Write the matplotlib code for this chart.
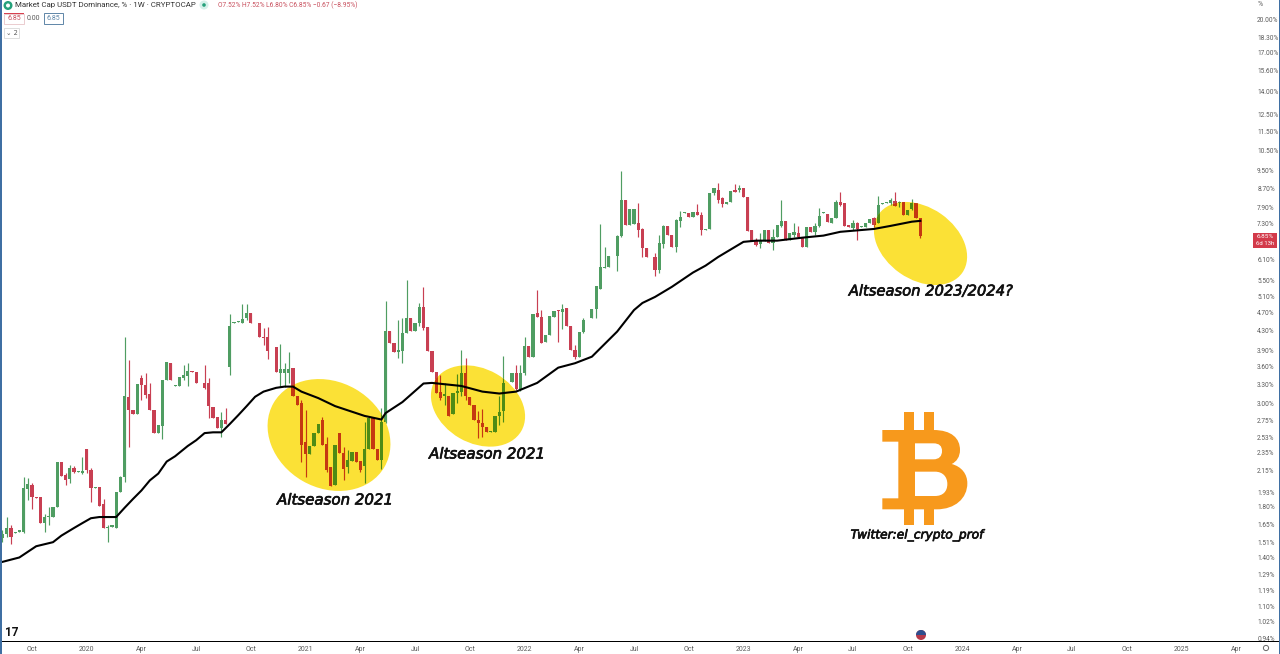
import matplotlib
matplotlib.use("Agg")
import matplotlib.pyplot as plt
import matplotlib.dates as mdates
import matplotlib.patheffects as pe
import numpy as np
import pandas as pd
from matplotlib.patches import Circle, Ellipse, PathPatch, Rectangle, Wedge
from matplotlib.path import Path
from matplotlib.transforms import Affine2D

# weekly candles, USDT dominance in %
first_week = "2019-08-12"
opens = [
    1.54, 1.57, 1.62, 1.58, 1.59, 1.59, 1.96, 2.00, 1.89, 1.89,
    1.66, 1.71, 1.71, 1.80, 2.25, 2.11, 2.06, 2.18, 2.14, 2.13,
    2.40, 2.16, 1.97, 1.98, 1.82, 1.62, 1.63, 1.62, 1.94, 2.08,
    3.10, 2.91, 2.85, 3.40, 3.29, 3.15, 2.90, 2.59, 2.68, 3.37,
    3.67, 3.27, 3.27, 3.40, 3.44, 3.52, 3.50, 3.33, 3.32, 3.32,
    2.94, 2.80, 2.66, 2.77, 3.59, 4.46, 4.48, 4.47, 4.57, 4.69,
    4.47, 4.47, 4.17, 4.17, 3.92, 3.97, 3.49, 3.49, 3.49, 3.58,
    3.11, 3.01, 2.48, 2.34, 2.43, 2.59, 2.76, 2.46, 2.19, 2.00,
    2.59, 2.35, 2.19, 2.26, 2.36, 2.26, 2.20, 2.40, 2.79, 2.40,
    2.27, 2.73, 4.30, 4.05, 3.87, 3.89, 4.26, 4.58, 4.30, 4.47,
    4.83, 4.38, 3.89, 3.51, 3.18, 3.11, 3.11, 2.84, 3.16, 3.18,
    3.49, 3.10, 2.97, 2.76, 2.72, 2.67, 2.61, 2.60, 2.82, 2.89,
    3.33, 3.34, 3.49, 3.22, 3.49, 3.99, 3.78, 4.69, 4.60, 4.07,
    4.21, 4.60, 4.76, 4.71, 4.81, 4.40, 3.91, 3.78, 4.28, 4.55,
    4.58, 4.79, 5.29, 5.87, 5.90, 6.22, 6.22, 6.88, 8.21, 7.26,
    7.29, 7.33, 7.11, 6.47, 6.22, 6.19, 5.81, 6.61, 7.22, 6.91,
    6.51, 7.40, 7.70, 7.70, 7.55, 7.74, 7.62, 7.08, 7.11, 8.50,
    8.62, 8.29, 8.05, 8.13, 8.62, 8.62, 8.70, 8.33, 7.08, 6.71,
    6.61, 6.71, 7.08, 6.64, 6.84, 7.22, 7.40, 6.74, 6.91, 6.98,
    6.84, 6.51, 7.19, 7.01, 7.22, 7.70, 7.66, 7.33, 7.51, 8.13,
    8.09, 7.26, 7.15, 7.33, 7.19, 7.19, 7.33, 7.51, 7.33, 8.05,
    8.09, 8.09, 8.17, 8.09, 8.13, 7.62, 7.85, 8.09, 7.52,
]
highs = [
    1.60, 1.71, 1.64, 1.59, 1.60, 2.08, 2.07, 2.02, 1.89, 1.89,
    1.74, 1.80, 1.80, 2.25, 2.25, 2.13, 2.21, 2.20, 2.15, 2.30,
    2.40, 2.18, 1.98, 1.98, 1.87, 1.64, 1.64, 1.94, 2.10, 4.17,
    3.72, 2.91, 3.31, 3.45, 3.49, 3.32, 2.90, 2.69, 3.37, 3.68,
    3.67, 3.28, 3.42, 3.63, 3.67, 3.52, 3.50, 3.34, 3.63, 3.40,
    2.94, 2.80, 2.87, 2.93, 4.67, 4.48, 4.50, 4.91, 4.91, 4.69,
    4.47, 4.47, 4.36, 4.38, 3.93, 3.97, 4.03, 3.66, 3.87, 3.58,
    3.11, 3.05, 2.90, 2.43, 2.59, 2.71, 2.80, 2.54, 2.19, 2.44,
    2.59, 2.42, 2.38, 2.36, 2.36, 2.26, 2.73, 2.79, 2.79, 2.40,
    2.93, 4.99, 4.30, 4.05, 4.53, 4.58, 5.53, 4.58, 4.47, 4.93,
    5.34, 4.38, 3.89, 3.51, 3.45, 3.32, 3.11, 3.16, 3.47, 3.91,
    3.76, 3.10, 2.97, 2.89, 2.92, 2.67, 2.62, 2.82, 3.11, 3.79,
    3.34, 3.49, 3.63, 3.63, 4.17, 3.99, 4.67, 5.26, 4.76, 4.21,
    4.62, 4.74, 4.76, 4.91, 4.81, 4.40, 4.01, 4.28, 4.58, 4.56,
    4.79, 5.37, 7.30, 6.51, 6.22, 6.23, 6.91, 9.47, 8.21, 7.85,
    7.85, 8.09, 7.15, 6.47, 6.22, 6.31, 6.91, 7.26, 7.22, 6.91,
    7.48, 7.77, 7.72, 7.70, 7.74, 8.05, 7.74, 7.11, 8.50, 8.70,
    8.92, 8.33, 8.13, 8.58, 8.88, 8.84, 8.70, 8.33, 7.08, 6.81,
    6.98, 7.08, 7.08, 7.11, 7.26, 8.21, 7.40, 6.98, 7.33, 7.22,
    6.84, 7.19, 7.19, 7.33, 7.89, 7.72, 7.66, 7.51, 8.21, 8.54,
    8.09, 7.26, 7.44, 7.37, 7.20, 7.33, 7.48, 7.55, 8.37, 8.07,
    8.11, 8.29, 8.54, 8.17, 8.13, 7.81, 8.25, 8.09, 7.52,
]
lows = [
    1.51, 1.55, 1.50, 1.58, 1.59, 1.58, 1.86, 1.78, 1.88, 1.66,
    1.59, 1.64, 1.71, 1.80, 2.09, 2.00, 2.02, 2.13, 2.14, 2.12,
    2.13, 1.84, 1.97, 1.81, 1.62, 1.51, 1.63, 1.62, 1.94, 2.03,
    2.42, 2.84, 2.85, 3.05, 3.08, 2.90, 2.59, 2.59, 2.51, 3.37,
    3.37, 3.27, 3.27, 3.37, 3.27, 3.50, 3.32, 3.33, 3.22, 2.79,
    2.79, 2.66, 2.54, 2.71, 3.45, 4.46, 4.48, 4.47, 4.53, 4.47,
    4.46, 4.17, 4.01, 3.74, 3.92, 3.51, 3.26, 3.26, 3.32, 3.11,
    2.97, 2.25, 2.08, 2.34, 2.43, 2.59, 2.44, 2.14, 1.99, 2.00,
    2.35, 2.05, 2.13, 2.26, 2.25, 2.14, 2.02, 2.40, 2.39, 2.27,
    2.17, 2.72, 4.05, 3.87, 3.76, 3.67, 4.26, 4.30, 4.30, 4.40,
    4.32, 3.89, 3.51, 3.16, 3.05, 2.97, 2.82, 2.84, 3.01, 3.11,
    3.05, 2.97, 2.77, 2.53, 2.54, 2.60, 2.61, 2.60, 2.69, 2.73,
    3.33, 3.34, 3.21, 3.19, 3.45, 3.78, 3.78, 4.60, 4.05, 4.07,
    4.21, 4.60, 4.07, 4.34, 4.40, 3.91, 3.74, 3.78, 4.26, 4.55,
    4.58, 4.58, 5.29, 5.86, 5.90, 6.22, 5.78, 6.84, 7.26, 7.26,
    7.29, 6.84, 6.19, 6.19, 6.21, 5.64, 5.72, 6.47, 6.91, 6.51,
    6.35, 7.19, 7.70, 7.55, 7.55, 7.62, 6.91, 7.08, 7.11, 8.42,
    8.09, 7.93, 8.05, 8.13, 8.54, 8.54, 8.33, 7.04, 6.71, 6.54,
    6.47, 6.71, 6.64, 6.41, 6.84, 7.19, 6.74, 6.74, 6.84, 6.81,
    6.51, 6.51, 7.01, 6.91, 7.19, 7.70, 7.37, 7.33, 7.51, 7.97,
    7.22, 7.19, 7.08, 6.74, 7.19, 7.19, 7.33, 7.19, 7.33, 8.05,
    8.09, 8.01, 7.97, 7.93, 7.62, 7.62, 7.81, 7.52, 6.80,
]
closes = [
    1.57, 1.62, 1.55, 1.59, 1.60, 1.97, 2.01, 1.89, 1.88, 1.66,
    1.71, 1.72, 1.80, 2.25, 2.09, 2.05, 2.18, 2.14, 2.15, 2.15,
    2.16, 1.97, 1.98, 1.81, 1.62, 1.63, 1.64, 1.94, 2.08, 3.11,
    2.90, 2.84, 3.31, 3.29, 3.13, 2.90, 2.59, 2.69, 3.37, 3.68,
    3.37, 3.28, 3.42, 3.45, 3.52, 3.50, 3.32, 3.34, 3.24, 2.96,
    2.79, 2.66, 2.77, 2.71, 4.40, 4.48, 4.50, 4.55, 4.69, 4.47,
    4.46, 4.17, 4.15, 3.89, 3.93, 3.51, 3.56, 3.56, 3.56, 3.11,
    2.97, 2.44, 2.34, 2.43, 2.59, 2.71, 2.44, 2.16, 1.99, 2.44,
    2.35, 2.17, 2.27, 2.36, 2.25, 2.16, 2.40, 2.79, 2.39, 2.27,
    2.73, 4.30, 4.05, 3.87, 3.91, 4.26, 4.58, 4.30, 4.47, 4.83,
    4.36, 3.89, 3.51, 3.16, 3.08, 3.15, 2.82, 3.16, 3.19, 3.49,
    3.11, 2.97, 2.77, 2.72, 2.67, 2.60, 2.62, 2.82, 2.87, 3.32,
    3.34, 3.49, 3.22, 3.49, 3.99, 3.78, 4.67, 4.60, 4.05, 4.21,
    4.62, 4.74, 4.74, 4.78, 4.40, 3.91, 3.78, 4.28, 4.53, 4.56,
    4.79, 5.37, 5.90, 5.90, 6.22, 6.23, 6.88, 8.21, 7.26, 7.85,
    7.85, 7.08, 6.47, 6.19, 6.21, 5.81, 6.64, 7.22, 6.91, 6.51,
    7.44, 7.55, 7.72, 7.55, 7.74, 7.62, 7.08, 7.11, 8.50, 8.70,
    8.21, 8.05, 8.13, 8.58, 8.54, 8.70, 8.33, 7.04, 6.71, 6.58,
    6.71, 7.08, 6.64, 6.84, 7.26, 7.40, 6.74, 6.98, 7.01, 6.84,
    6.51, 7.19, 7.01, 7.22, 7.59, 7.72, 7.37, 7.51, 8.13, 8.01,
    7.22, 7.19, 7.33, 7.11, 7.20, 7.33, 7.48, 7.26, 8.01, 8.07,
    8.11, 8.21, 7.97, 8.13, 7.62, 7.81, 8.09, 7.52, 6.85,
]

# black moving average, read every few weeks
ma_weeks = [0, 4, 8, 12, 14, 17, 19, 21, 23, 25, 27, 29, 31, 33, 35, 37, 39, 41,
            44, 46, 48, 50, 52, 54, 56, 58, 60, 62, 65, 67, 69, 71, 75, 79, 86,
            90, 91, 95, 100, 102, 109, 114, 118, 122, 127, 132, 136, 140, 146,
            150, 152, 155, 159, 164, 167, 170, 176, 179, 184, 190, 195, 199,
            207, 211, 216, 218]
ma_values = [1.37, 1.40, 1.48, 1.51, 1.56, 1.62, 1.66, 1.70, 1.71, 1.71, 1.71,
             1.79, 1.87, 1.95, 2.05, 2.12, 2.25, 2.31, 2.43, 2.50, 2.59, 2.60,
             2.60, 2.71, 2.83, 2.96, 3.10, 3.18, 3.24, 3.26, 3.26, 3.18, 3.08,
             2.96, 2.82, 2.77, 2.86, 3.02, 3.31, 3.32, 3.27, 3.18, 3.15, 3.18,
             3.32, 3.58, 3.66, 3.78, 4.28, 4.76, 4.93, 5.08, 5.34, 5.73, 5.93,
             6.19, 6.67, 6.71, 6.71, 6.81, 6.88, 7.01, 7.11, 7.22, 7.37, 7.40]

price_ticks = [20.00, 18.30, 17.00, 15.60, 14.00, 12.50, 11.50, 10.50, 9.50,
               8.70, 7.90, 7.30, 6.10, 5.50, 5.10, 4.70, 4.30, 3.90, 3.60,
               3.30, 3.00, 2.75, 2.53, 2.35, 2.15, 1.93, 1.80, 1.65, 1.51,
               1.40, 1.29, 1.19, 1.10, 1.02, 0.94]
first_tick_week = "2019-09-30"
month_labels = ["Oct", "2020", "Apr", "Jul", "Oct", "2021", "Apr", "Jul", "Oct",
                "2022", "Apr", "Jul", "Oct", "2023", "Apr", "Jul", "Oct",
                "2024", "Apr", "Jul", "Oct", "2025", "Apr"]

W, H = 1280, 654
GREEN = "#4f9d62"
RED = "#c83f52"
YELLOW = "#fbe136"
GRAY = "#5a5a5a"
SANS = "Roboto"

fig = plt.figure(figsize=(W / 100, H / 100), dpi=100, facecolor="white")
# pixel coordinates of the picture, y going down, for the drawn-on notes
px = Affine2D().scale(1, -1).translate(0, H)

ax = fig.add_axes([2 / W, 1 - 642 / H, 1251 / W, 632 / H])
ax.set_yscale("log")

dates = mdates.date2num(pd.date_range(first_week, periods=len(opens), freq="7D"))
opens, highs, lows, closes = map(np.array, (opens, highs, lows, closes))
up = closes >= opens


def multiply(color):
    return np.array(matplotlib.colors.to_rgb(color)) * matplotlib.colors.to_rgb(YELLOW)


def draw_candles(up_color, down_color, zorder, clip=None):
    colors = [up_color if u else down_color for u in up]
    wicks = ax.vlines(dates, lows, highs, colors=colors, linewidth=0.85, zorder=zorder)
    bodies = ax.bar(dates, np.abs(closes - opens), bottom=np.minimum(opens, closes),
                    width=5.3, color=colors, linewidth=0, zorder=zorder + 0.1)
    if clip is not None:
        wicks.set_clip_path(clip)
        for bar in bodies:
            bar.set_clip_path(clip)


draw_candles(GREEN, RED, 2)

# yellow marker blots, candles seen through them get multiplied by the yellow
spots = [((329, 435), 128, 106, 30), ((478, 406), 100, 74, 30), ((920.5, 243.5), 102, 72, 35)]
for center, width, height, angle in spots:
    spot = Ellipse(center, width, height, angle=angle, facecolor=YELLOW,
                   edgecolor="none", transform=px, zorder=3)
    ax.add_patch(spot)
    draw_candles(multiply(GREEN), multiply(RED), 4, clip=spot)

ax.plot(dates[ma_weeks], ma_values, color="black", linewidth=1.5, zorder=5,
        solid_joinstyle="round")

x0 = mdates.date2num(pd.Timestamp(first_week))
ax.set_xlim(x0 + 7 * (2 - 2.5) / 4.21, x0 + 7 * (1253 - 2.5) / 4.21)
ax.set_ylim(0.9216, 21.0)

tick_dates = mdates.date2num(pd.date_range(first_tick_week, periods=len(month_labels), freq="91D"))
ax.set_xticks(tick_dates, month_labels)
ax.yaxis.tick_right()
ax.set_yticks(price_ticks, [f"{p:.2f}%" for p in price_ticks])
ax.minorticks_off()
ax.tick_params(axis="x", length=0, pad=3, labelsize=5, labelcolor=GRAY)
ax.tick_params(axis="y", length=0, pad=3, labelsize=4.7, labelcolor=GRAY)
for label in ax.get_xticklabels() + ax.get_yticklabels():
    label.set_fontfamily(SANS)
for side in ax.spines:
    ax.spines[side].set_visible(False)


def note(x, y, s, **kw):
    kw.setdefault("family", SANS)
    kw.setdefault("va", "center")
    return fig.text(x, y, s, transform=px, **kw)


def box(x, y, w, h, **kw):
    fig.add_artist(Rectangle((x, y), w, h, transform=px, **kw))


# hand written captions, stroked a little to get the heavier look
for x, y, s, size in [(335, 500, "Altseason 2021", 10.8),
                      (487, 454, "Altseason 2021", 10.8),
                      (931, 291, "Altseason 2023/2024?", 10.6),
                      (917, 535, "Twitter:el_crypto_prof", 8.8)]:
    t = note(x, y, s, family="DejaVu Sans", style="italic", fontsize=size,
             color="#111111", ha="center", zorder=6)
    t.set_path_effects([pe.withStroke(linewidth=0.5, foreground="#111111")])

# bitcoin logo, shape taken from a 3x crop with its corner at (840, 400)
verts = [(127, 90), (280, 90), (335, 90), (360, 115), (360, 150), (360, 170), (350, 185),
         (335, 192), (365, 200), (382, 222), (382, 250), (382, 295), (345, 328), (290, 328),
         (127, 328), (127, 295), (175, 295), (175, 125), (127, 125), (127, 90),
         (225, 130), (225, 178), (280, 178), (298, 178), (306, 168), (306, 153),
         (306, 138), (298, 130), (280, 130), (225, 130),
         (225, 215), (225, 288), (285, 288), (308, 288), (322, 275), (322, 252),
         (322, 230), (308, 215), (285, 215), (225, 215)]
codes = [Path.MOVETO, Path.LINETO] + [Path.CURVE4] * 12 + [Path.LINETO] * 5 + [Path.CLOSEPOLY]
hole = [Path.MOVETO, Path.LINETO, Path.LINETO] + [Path.CURVE4] * 6 + [Path.CLOSEPOLY]
codes = codes + hole + hole
logo_tf = Affine2D().scale(1 / 3).translate(840, 400) + px
ORANGE = "#f7991c"
fig.add_artist(PathPatch(Path(verts, codes), facecolor=ORANGE, edgecolor="none", transform=logo_tf))
for zx, zy in [(193, 35), (252, 35), (193, 320), (252, 320)]:
    fig.add_artist(Rectangle((zx, zy), 30, 56, facecolor=ORANGE, edgecolor="none", transform=logo_tf))

# TradingView header
fig.add_artist(Circle((8, 5.5), 4.5, facecolor="#26a17b", edgecolor="none", transform=px))
fig.add_artist(Circle((8, 5.5), 2, facecolor="white", edgecolor="none", transform=px))
note(15, 5.5, "Market Cap USDT Dominance, % · 1W · CRYPTOCAP", fontsize=5.65, color="#333333")
fig.add_artist(Circle((204, 5), 4.5, facecolor="#d5f0ea", edgecolor="none", transform=px))
fig.add_artist(Circle((204, 5), 1.8, facecolor="#26a17b", edgecolor="none", transform=px))
note(218, 5.5, "O7.52% H7.52% L6.80% C6.85% −0.67 (−8.95%)", fontsize=4.75, color="#c8505e")
box(4, 14, 20, 10, facecolor="white", edgecolor="#e8c4c8", linewidth=0.6)
box(4, 13, 20, 1, facecolor="#d8404f", edgecolor="none")
note(14, 19, "6.85", fontsize=5, color="#c8505e", ha="center")
note(33, 19, "0.00", fontsize=5, color=GRAY, ha="center")
box(44, 13, 19, 11, facecolor="white", edgecolor="#5f86a8", linewidth=0.7)
note(53.5, 19, "6.85", fontsize=5, color="#5f86a8", ha="center")
box(4, 28, 15, 10, facecolor="white", edgecolor="#d8d8d8", linewidth=0.6)
note(11.5, 33, "⌄ 2", family="DejaVu Sans", fontsize=4.8, color=GRAY, ha="center")

# price axis extras
note(1258, 5, "%", fontsize=5, color=GRAY)
box(1253, 233, 24, 15, facecolor="#d33a4a", edgecolor="none")
note(1265, 237, "6.85%", fontsize=4.6, color="white", ha="center", zorder=6)
note(1265, 243.5, "6d 13h", fontsize=4.3, color="white", ha="center", zorder=6)
fig.add_artist(Circle((1266, 648), 2.6, facecolor="none", edgecolor="#666666", linewidth=0.7, transform=px))

# logo mark, flag icon and the frame lines
note(12, 632, "17", fontsize=8.5, fontweight="bold", color="#111111", ha="center")
fig.add_artist(Circle((921, 635), 5, facecolor="#b5394a", edgecolor="none", transform=px))
fig.add_artist(Wedge((921, 635), 5, 180, 360, facecolor="#2e4f8f", edgecolor="none", transform=px))
box(0, 641, 1279, 1.4, facecolor="black", edgecolor="none")
box(0, 0, 1.5, H, facecolor="#3f6fa3", edgecolor="none")
box(1278.5, 0, 1.5, H, facecolor="#3f6fa3", edgecolor="none")

fig.savefig("out.png", dpi=100)
